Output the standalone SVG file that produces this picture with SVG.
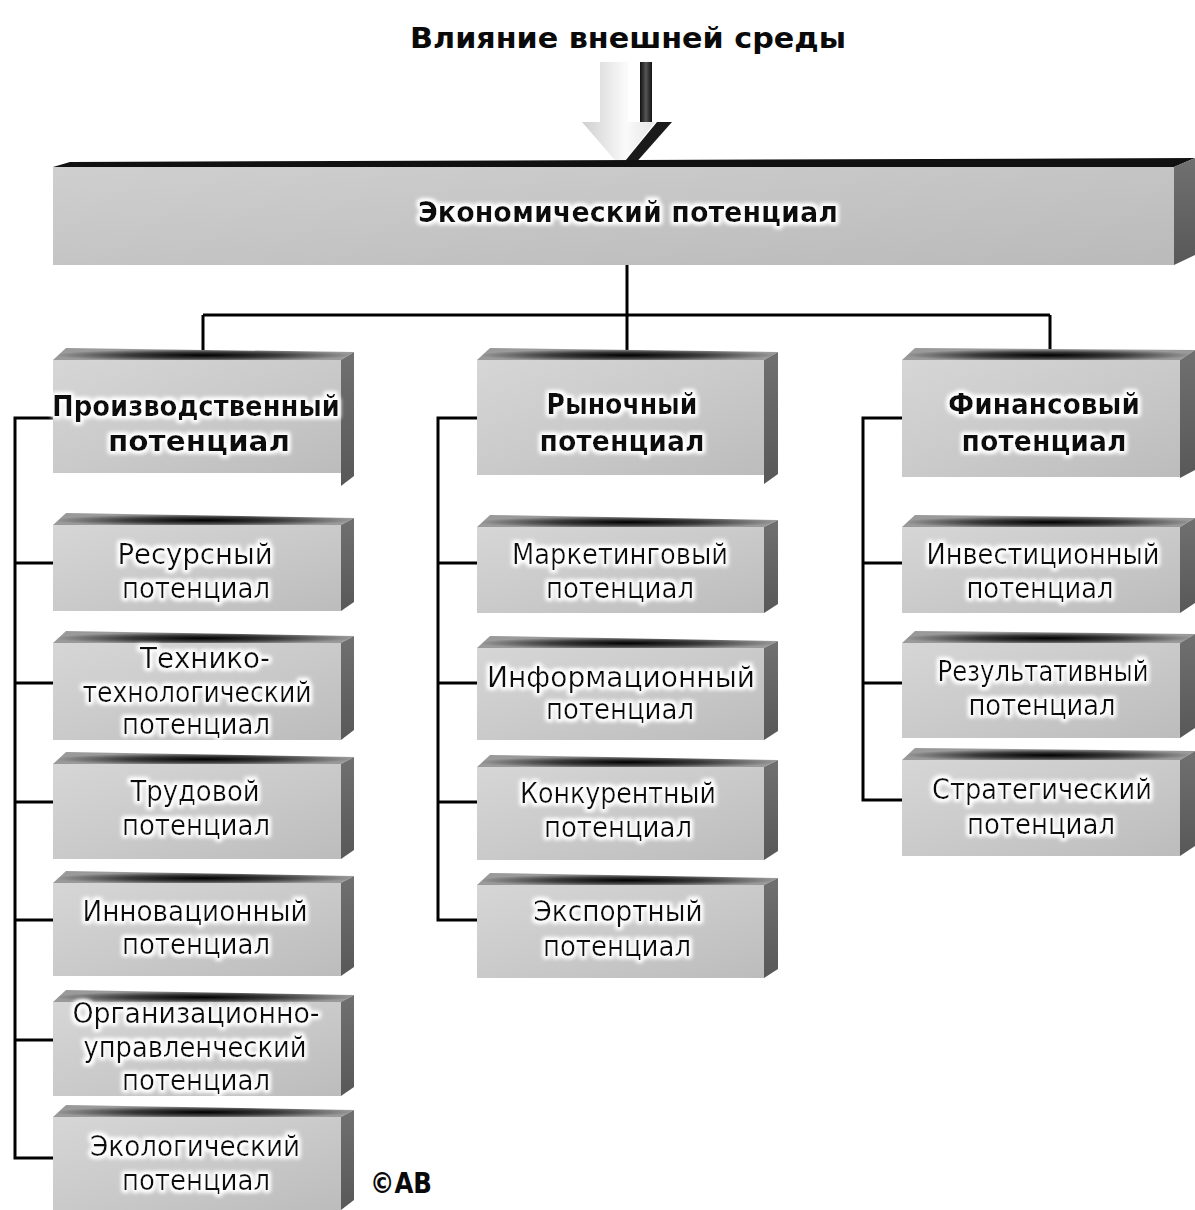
<svg xmlns="http://www.w3.org/2000/svg" width="1195" height="1210" viewBox="0 0 1195 1210">
<style>
.t{font-family:"DejaVu Sans","Liberation Sans",sans-serif;font-size:28px;fill:#0a0a0a;text-anchor:middle;filter:url(#glow)}
.b{font-weight:bold}
.front{fill:url(#gFront)}
.top{fill:url(#gTop)}
.side{fill:url(#gSide)}
.ln{fill:none;stroke:#000;stroke-width:3}
</style>
<defs>
<linearGradient id="gFront" x1="0" y1="0" x2="1" y2="1">
<stop offset="0" stop-color="#d6d6d6"/><stop offset="0.5" stop-color="#cacaca"/><stop offset="1" stop-color="#bcbcbc"/>
</linearGradient>
<linearGradient id="gMain" x1="0" y1="0" x2="1" y2="1">
<stop offset="0" stop-color="#cfcfcf"/><stop offset="1" stop-color="#bababa"/>
</linearGradient>
<radialGradient id="gTop" cx="0.5" cy="0.6" r="0.5" fx="0.5" fy="0.6">
<stop offset="0" stop-color="#000"/><stop offset="0.5" stop-color="#3a3a3a"/><stop offset="1" stop-color="#9a9a9a"/>
</radialGradient>
<linearGradient id="gSide" x1="0" y1="0" x2="0" y2="1">
<stop offset="0" stop-color="#707070"/><stop offset="1" stop-color="#585858"/>
</linearGradient>
<linearGradient id="gArrow" x1="0" y1="0" x2="1" y2="0">
<stop offset="0" stop-color="#cfcfcf"/><stop offset="0.6" stop-color="#fafafa"/><stop offset="1" stop-color="#e6e6e6"/>
</linearGradient>
<linearGradient id="gBar" x1="0" y1="0" x2="1" y2="0">
<stop offset="0" stop-color="#111"/><stop offset="0.5" stop-color="#555"/><stop offset="1" stop-color="#111"/>
</linearGradient>
<filter id="glow" x="-10%" y="-30%" width="120%" height="160%">
<feMorphology in="SourceAlpha" operator="dilate" radius="2" result="d"/>
<feGaussianBlur in="d" stdDeviation="2" result="bl"/>
<feFlood flood-color="#fff"/>
<feComposite in2="bl" operator="in" result="g"/>
<feMerge><feMergeNode in="g"/><feMergeNode in="g"/><feMergeNode in="SourceGraphic"/></feMerge>
</filter>
</defs>

<g id="title">
<text x="628" y="48" class="t b" font-size="33" textLength="436" lengthAdjust="spacingAndGlyphs" style="filter:none">Влияние внешней среды</text>
</g>

<g id="arrow">
<rect x="640" y="62" width="12" height="60" fill="url(#gBar)"/>
<polygon points="657,122 672,122 633,166 621,166" fill="#1a1a1a"/>
<polygon points="600,62 628,62 628,122 655,122 620,166 582,122 600,122" fill="url(#gArrow)"/>
</g>

<g id="connectors">
<path class="ln" d="M627 265V315M203 315H1050M203 315V360M627 315V360M1050 315V360"/>
<path class="ln" d="M53 418H15V1158H53M15 563H53M15 683H53M15 802H53M15 920H53M15 1040H53"/>
<path class="ln" d="M477 418H438V920H477M438 563H477M438 683H477M438 802H477"/>
<path class="ln" d="M902 418H863V800H902M863 563H902M863 683H902"/>
</g>

<g id="main">
<polygon points="53,167 70,162 1195,158 1174,167" fill="#111"/>
<polygon points="1174,167 1195,158 1195,255 1174,265" class="side"/>
<rect x="53" y="167" width="1121" height="98" fill="url(#gMain)"/>
<text x="628" y="222" class="t b" font-size="30" textLength="420" lengthAdjust="spacingAndGlyphs">Экономический потенциал</text>
</g>

<g id="n-prod">
<polygon points="53,360 66,348 354,352 341,360" class="top"/>
<polygon points="341,360 354,352 354,476 341,486" class="side"/>
<rect x="53" y="360" width="288" height="113" class="front"/>
<text x="196" y="416" class="t b" font-size="29" textLength="288" lengthAdjust="spacingAndGlyphs">Производственный</text>
<text x="199" y="451" class="t b" font-size="29" textLength="182" lengthAdjust="spacingAndGlyphs">потенциал</text>
</g>
<g id="n-market">
<polygon points="477,360 490,348 778,352 764,360" class="top"/>
<polygon points="764,360 778,352 778,474 764,484" class="side"/>
<rect x="477" y="360" width="287" height="115" class="front"/>
<text x="622" y="414" class="t b" font-size="29" textLength="151" lengthAdjust="spacingAndGlyphs">Рыночный</text>
<text x="622" y="451" class="t b" font-size="29" textLength="165" lengthAdjust="spacingAndGlyphs">потенциал</text>
</g>
<g id="n-fin">
<polygon points="902,360 915,348 1195,350 1180,360" class="top"/>
<polygon points="1180,360 1195,350 1195,470 1180,478" class="side"/>
<rect x="902" y="360" width="278" height="117" class="front"/>
<text x="1044" y="414" class="t b" font-size="29" textLength="192" lengthAdjust="spacingAndGlyphs">Финансовый</text>
<text x="1044" y="451" class="t b" font-size="29" textLength="165" lengthAdjust="spacingAndGlyphs">потенциал</text>
</g>

<g id="n-res">
<polygon points="53,525 66,513 354,518 341,525" class="top"/>
<polygon points="341,525 354,518 354,602 341,611" class="side"/>
<rect x="53" y="525" width="288" height="86" class="front"/>
<text x="195" y="564" class="t" textLength="155" lengthAdjust="spacingAndGlyphs">Ресурсный</text>
<text x="196" y="598" class="t" textLength="148" lengthAdjust="spacingAndGlyphs">потенциал</text>
</g>
<g id="n-tech">
<polygon points="53,643 66,631 354,636 341,643" class="top"/>
<polygon points="341,643 354,636 354,730 341,740" class="side"/>
<rect x="53" y="643" width="288" height="97" class="front"/>
<text x="205" y="668" class="t" textLength="130" lengthAdjust="spacingAndGlyphs">Технико-</text>
<text x="197" y="702" class="t" textLength="229" lengthAdjust="spacingAndGlyphs">технологический</text>
<text x="196" y="734" class="t" textLength="148" lengthAdjust="spacingAndGlyphs">потенциал</text>
</g>
<g id="n-labor">
<polygon points="53,764 66,752 354,757 341,764" class="top"/>
<polygon points="341,764 354,757 354,850 341,859" class="side"/>
<rect x="53" y="764" width="288" height="95" class="front"/>
<text x="195" y="801" class="t" textLength="129" lengthAdjust="spacingAndGlyphs">Трудовой</text>
<text x="196" y="835" class="t" textLength="148" lengthAdjust="spacingAndGlyphs">потенциал</text>
</g>
<g id="n-innov">
<polygon points="53,883 66,871 354,876 341,883" class="top"/>
<polygon points="341,883 354,876 354,967 341,976" class="side"/>
<rect x="53" y="883" width="288" height="93" class="front"/>
<text x="195" y="921" class="t" textLength="225" lengthAdjust="spacingAndGlyphs">Инновационный</text>
<text x="196" y="954" class="t" textLength="148" lengthAdjust="spacingAndGlyphs">потенциал</text>
</g>
<g id="n-org">
<polygon points="53,1002 66,990 354,995 341,1002" class="top"/>
<polygon points="341,1002 354,995 354,1087 341,1096" class="side"/>
<rect x="53" y="1002" width="288" height="94" class="front"/>
<text x="196" y="1023" class="t" textLength="247" lengthAdjust="spacingAndGlyphs">Организационно-</text>
<text x="195" y="1057" class="t" textLength="223" lengthAdjust="spacingAndGlyphs">управленческий</text>
<text x="196" y="1090" class="t" textLength="148" lengthAdjust="spacingAndGlyphs">потенциал</text>
</g>
<g id="n-eco">
<polygon points="53,1117 66,1105 354,1110 341,1117" class="top"/>
<polygon points="341,1117 354,1110 354,1200 341,1210" class="side"/>
<rect x="53" y="1117" width="288" height="93" class="front"/>
<text x="195" y="1156" class="t" textLength="210" lengthAdjust="spacingAndGlyphs">Экологический</text>
<text x="196" y="1190" class="t" textLength="148" lengthAdjust="spacingAndGlyphs">потенциал</text>
</g>

<g id="n-mark">
<polygon points="477,527 490,515 778,520 764,527" class="top"/>
<polygon points="764,527 778,520 778,604 764,613" class="side"/>
<rect x="477" y="527" width="287" height="86" class="front"/>
<text x="620" y="564" class="t" textLength="216" lengthAdjust="spacingAndGlyphs">Маркетинговый</text>
<text x="620" y="598" class="t" textLength="148" lengthAdjust="spacingAndGlyphs">потенциал</text>
</g>
<g id="n-info">
<polygon points="477,648 490,636 778,641 764,648" class="top"/>
<polygon points="764,648 778,641 778,731 764,740" class="side"/>
<rect x="477" y="648" width="287" height="92" class="front"/>
<text x="621" y="687" class="t" textLength="268" lengthAdjust="spacingAndGlyphs">Информационный</text>
<text x="620" y="719" class="t" textLength="148" lengthAdjust="spacingAndGlyphs">потенциал</text>
</g>
<g id="n-comp">
<polygon points="477,767 490,755 778,760 764,767" class="top"/>
<polygon points="764,767 778,760 778,851 764,860" class="side"/>
<rect x="477" y="767" width="287" height="93" class="front"/>
<text x="618" y="803" class="t" textLength="196" lengthAdjust="spacingAndGlyphs">Конкурентный</text>
<text x="618" y="837" class="t" textLength="148" lengthAdjust="spacingAndGlyphs">потенциал</text>
</g>
<g id="n-exp">
<polygon points="477,885 490,873 778,878 764,885" class="top"/>
<polygon points="764,885 778,878 778,969 764,978" class="side"/>
<rect x="477" y="885" width="287" height="93" class="front"/>
<text x="618" y="921" class="t" textLength="169" lengthAdjust="spacingAndGlyphs">Экспортный</text>
<text x="617" y="956" class="t" textLength="148" lengthAdjust="spacingAndGlyphs">потенциал</text>
</g>

<g id="n-inv">
<polygon points="902,527 915,515 1195,518 1180,527" class="top"/>
<polygon points="1180,527 1195,518 1195,603 1180,613" class="side"/>
<rect x="902" y="527" width="278" height="86" class="front"/>
<text x="1043" y="564" class="t" textLength="233" lengthAdjust="spacingAndGlyphs">Инвестиционный</text>
<text x="1040" y="598" class="t" textLength="147" lengthAdjust="spacingAndGlyphs">потенциал</text>
</g>
<g id="n-result">
<polygon points="902,643 915,631 1195,634 1180,643" class="top"/>
<polygon points="1180,643 1195,634 1195,728 1180,738" class="side"/>
<rect x="902" y="643" width="278" height="95" class="front"/>
<text x="1043" y="681" class="t" textLength="211" lengthAdjust="spacingAndGlyphs">Результативный</text>
<text x="1042" y="715" class="t" textLength="147" lengthAdjust="spacingAndGlyphs">потенциал</text>
</g>
<g id="n-strat">
<polygon points="902,760 915,748 1195,751 1180,760" class="top"/>
<polygon points="1180,760 1195,751 1195,846 1180,856" class="side"/>
<rect x="902" y="760" width="278" height="96" class="front"/>
<text x="1042" y="799" class="t" textLength="220" lengthAdjust="spacingAndGlyphs">Стратегический</text>
<text x="1041" y="834" class="t" textLength="148" lengthAdjust="spacingAndGlyphs">потенциал</text>
</g>

<g id="copyright">
<text x="401" y="1193" class="t b" font-size="28" textLength="62" lengthAdjust="spacingAndGlyphs" style="filter:none">©AB</text>
</g>
</svg>
